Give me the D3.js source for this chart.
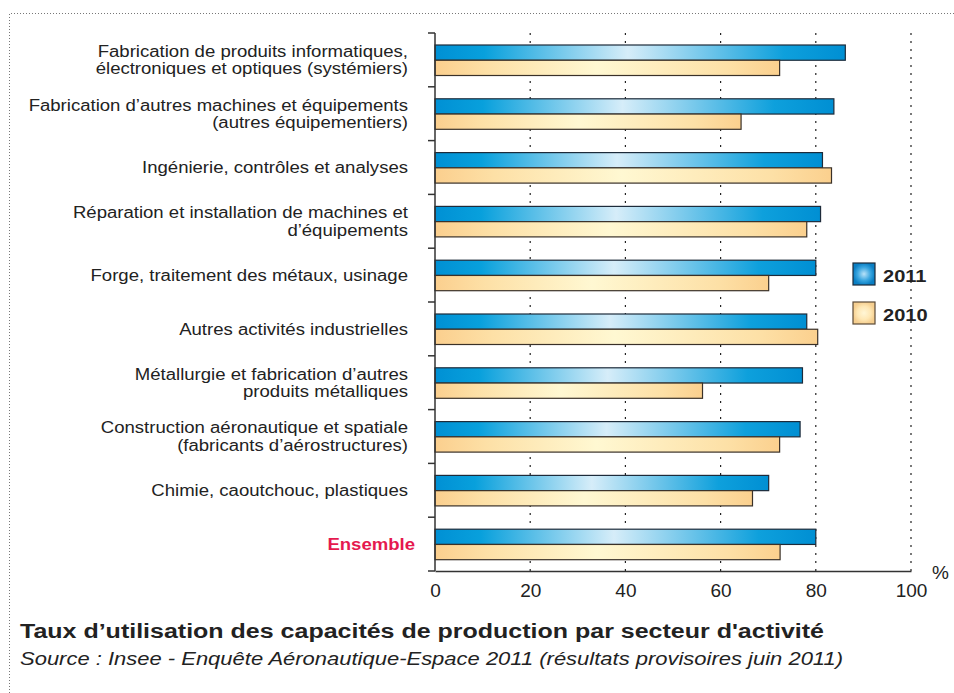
<!DOCTYPE html>
<html>
<head>
<meta charset="utf-8">
<script src="https://cdn.jsdelivr.net/npm/d3@7"></script>
<style>
  body { margin: 0; background: #fff; }
  svg { display: block; font-family: "Liberation Sans", Arial, Helvetica, sans-serif; }
</style>
</head>
<body>
<script>
// categories, top to bottom
const categories = [
  "Fabrication de produits informatiques,\nélectroniques et optiques (systémiers)",
  "Fabrication d’autres machines et équipements\n(autres équipementiers)",
  "Ingénierie, contrôles et analyses",
  "Réparation et installation de machines et\nd’équipements",
  "Forge, traitement des métaux, usinage",
  "Autres activités industrielles",
  "Métallurgie et fabrication d’autres\nproduits métalliques",
  "Construction aéronautique et spatiale\n(fabricants d’aérostructures)",
  "Chimie, caoutchouc, plastiques",
  "Ensemble"
];
const values2011 = [86.2, 83.8, 81.4, 81.0, 80.0, 78.1, 77.2, 76.7, 70.1, 80.0];
const values2010 = [72.4, 64.3, 83.3, 78.1, 70.1, 80.4, 56.2, 72.4, 66.7, 72.5];
const series = ["2011", "2010"];
const xTicks = [0, 20, 40, 60, 80, 100];

const width = 954;
const height = 693;

const svg = d3.select("body").append("svg").attr("width", width).attr("height", height);

//Gradients
const defs = svg.append("defs");
const blueGrad = defs.append("linearGradient").attr("id", "gBlue");
[[0, "#0090d4"], [0.12, "#08a0dc"], [0.47, "#d6edf9"], [0.85, "#0ea0dc"], [1, "#008fd3"]]
  .forEach(([o, c]) => blueGrad.append("stop").attr("offset", o).attr("stop-color", c));
const orangeGrad = defs.append("linearGradient").attr("id", "gOrange");
[[0, "#fbcf8e"], [0.15, "#fde0a6"], [0.47, "#fff8d2"], [0.85, "#fde0a6"], [1, "#fbd08e"]]
  .forEach(([o, c]) => orangeGrad.append("stop").attr("offset", o).attr("stop-color", c));
const blueRad = defs.append("radialGradient").attr("id", "rBlue");
[[0, "#b9e2f8"], [0.6, "#3aa6e0"], [1, "#0a7fc4"]]
  .forEach(([o, c]) => blueRad.append("stop").attr("offset", o).attr("stop-color", c));
const orangeRad = defs.append("radialGradient").attr("id", "rOrange");
[[0, "#fff6d6"], [0.6, "#fee7b4"], [1, "#f6cf90"]]
  .forEach(([o, c]) => orangeRad.append("stop").attr("offset", o).attr("stop-color", c));

//Dotted frame
svg.append("path")
  .attr("d", `M9.5,${height} V13.5 H${width}`)
  .attr("fill", "none")
  .attr("stroke", "#777")
  .attr("stroke-dasharray", "1,2");

//Scales
const x = d3.scaleLinear().domain([0, 100]).range([435, 911]);
const y = d3.scaleBand().domain(categories).range([33, 571]);
const ySub = d3.scaleBand().domain(series).range([12, 42.5]);

//Gridlines
svg.append("g")
  .selectAll("line")
  .data(xTicks.slice(1))
  .join("line")
  .attr("x1", (d) => x(d))
  .attr("x2", (d) => x(d))
  .attr("y1", 33)
  .attr("y2", 571)
  .attr("stroke", "#222")
  .attr("stroke-width", 1.2)
  .attr("stroke-dasharray", "2,6");

//Bars
const rows = categories.map((c, i) => ({ c, v: [values2011[i], values2010[i]] }));
const group = svg.append("g")
  .selectAll("g")
  .data(rows)
  .join("g")
  .attr("transform", (d) => `translate(0,${y(d.c)})`);

group.selectAll("rect")
  .data((d) => d.v.map((v, k) => ({ s: series[k], v })))
  .join("rect")
  .attr("x", x(0))
  .attr("y", (d) => ySub(d.s))
  .attr("width", (d) => x(d.v) - x(0))
  .attr("height", ySub.bandwidth())
  .attr("fill", (d) => (d.s === "2011" ? "url(#gBlue)" : "url(#gOrange)"))
  .attr("stroke", (d) => (d.s === "2011" ? "#1d2b3a" : "#3a3128"))
  .attr("stroke-width", 1.2);

//Left axis with band ticks
const bounds = categories.map((c) => y(c)).concat([571]);
svg.append("line")
  .attr("x1", x(0)).attr("x2", x(0))
  .attr("y1", 33).attr("y2", 571)
  .attr("stroke", "#333").attr("stroke-width", 1.5);
svg.append("g")
  .selectAll("line")
  .data(bounds)
  .join("line")
  .attr("x1", x(0) - 7).attr("x2", x(0))
  .attr("y1", (d) => d).attr("y2", (d) => d)
  .attr("stroke", "#333").attr("stroke-width", 1.5);

//Bottom axis
const xAxis = d3.axisBottom(x).tickValues(xTicks).tickSize(0).tickSizeOuter(0).tickPadding(13);
const gx = svg.append("g").attr("transform", "translate(0,571)").call(xAxis);
gx.select(".domain").attr("stroke", "#333").attr("stroke-width", 1.5);
gx.selectAll("text").attr("font-size", 19).attr("fill", "#222").attr("font-family", null);

svg.append("text")
  .attr("x", 932).attr("y", 579)
  .attr("font-size", 19).attr("fill", "#222")
  .text("%");

//Category labels (the original type is set wide)
const labelX = (d) => (d === "Ensemble" ? 415 : 408);
const labels = svg.append("g")
  .selectAll("text")
  .data(categories)
  .join("text")
  .attr("text-anchor", "end")
  .attr("x", labelX)
  .attr("y", (d) => y(d) + y.bandwidth() / 2)
  .attr("transform", (d) => `translate(${labelX(d)},0) scale(1.16,1) translate(${-labelX(d)},0)`)
  .attr("font-size", 16)
  .attr("font-weight", (d) => (d === "Ensemble" ? "bold" : null))
  .attr("fill", (d) => (d === "Ensemble" ? "#e5194f" : "#222"));

labels.each(function (d) {
  const lines = d.split("\n");
  const el = d3.select(this);
  lines.forEach((t, k) => {
    el.append("tspan")
      .attr("x", el.attr("x"))
      .attr("dy", k === 0 ? (0.36 - (lines.length - 1) * 0.55) + "em" : "1.1em")
      .text(t);
  });
});

//Legend
const legend = svg.append("g").selectAll("g")
  .data(series)
  .join("g")
  .attr("transform", (d, i) => `translate(853,${263 + i * 39})`);
legend.append("rect")
  .attr("width", 22).attr("height", 22)
  .attr("fill", (d) => (d === "2011" ? "url(#rBlue)" : "url(#rOrange)"))
  .attr("stroke", (d) => (d === "2011" ? "#1d2b3a" : "#5a4a38"))
  .attr("stroke-width", 1.2);
legend.append("text")
  .attr("x", 30).attr("y", 19)
  .attr("transform", "translate(30,0) scale(1.18,1) translate(-30,0)")
  .attr("font-size", 17).attr("font-weight", "bold").attr("fill", "#222")
  .text((d) => d);

//Title and source
svg.append("text")
  .attr("x", 20).attr("y", 638)
  .attr("font-size", 19.5).attr("font-weight", "bold").attr("fill", "#222")
  .attr("textLength", 804).attr("lengthAdjust", "spacingAndGlyphs")
  .text("Taux d’utilisation des capacités de production par secteur d'activité");
svg.append("text")
  .attr("x", 20).attr("y", 665)
  .attr("font-size", 17.5).attr("font-style", "italic").attr("fill", "#222")
  .attr("textLength", 823).attr("lengthAdjust", "spacingAndGlyphs")
  .text("Source : Insee - Enquête Aéronautique-Espace 2011 (résultats provisoires juin 2011)");
</script>
</body>
</html>
